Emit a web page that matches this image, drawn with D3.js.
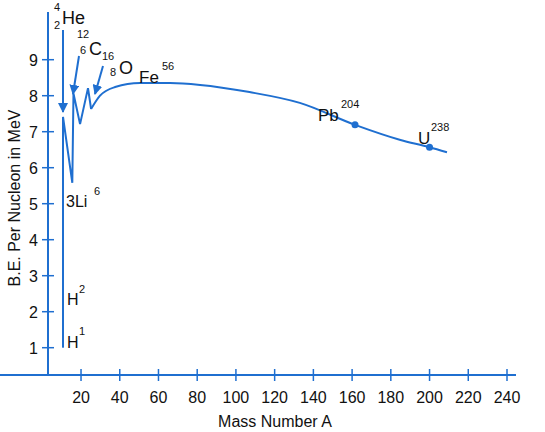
<!DOCTYPE html><html><head><meta charset="utf-8"><script src="https://cdn.jsdelivr.net/npm/d3@7"></script>
<style>body{margin:0;background:#fff}text{font-family:Arial,"Liberation Sans",sans-serif;fill:#111}</style></head><body><svg id="c" width="545" height="432"></svg>
<script>
const xTicks=[20,40,60,80,100,120,140,160,180,200,220,240];
const yTicks=[1,2,3,4,5,6,7,8,9];
const curveA=[10.7,15.5,16.1,19.5,23.6,25.2];
const curveV=[7.41,5.58,8.06,7.21,8.21,7.63];
const smoothA=[25.2,29.8,37.6,50.5,66,81.5,107,133,161.5,185,200,209];
const smoothV=[7.63,8.0,8.24,8.35,8.35,8.30,8.1,7.8,7.19,6.77,6.57,6.43];
const points=[{a:161.5,v:7.19},{a:200,v:6.57}];
const hA=10.7;
const blue="#1f6fd0";
const svg=d3.select("#c");
const x=d3.scaleLinear().domain([0,240]).range([42.3,507]);
const y=d3.scaleLinear().domain([1,9]).range([347.7,59.7]);
const defs=svg.append("defs");
defs.append("marker").attr("id","ah").attr("viewBox","0 0 10 10").attr("refX",9).attr("refY",5)
 .attr("markerWidth",5).attr("markerHeight",5).attr("orient","auto").attr("markerUnits","strokeWidth")
 .append("path").attr("d","M0,0L10,5L0,10z").attr("fill",blue);
const xAxisY=375, yAxisX=48;
svg.append("line").attr("x1",0).attr("x2",516).attr("y1",xAxisY).attr("y2",xAxisY).attr("stroke",blue).attr("stroke-width",2);
svg.append("line").attr("x1",yAxisX).attr("x2",yAxisX).attr("y1",12).attr("y2",xAxisY).attr("stroke",blue).attr("stroke-width",2);
xTicks.forEach(t=>{
 svg.append("line").attr("x1",x(t)).attr("x2",x(t)).attr("y1",xAxisY-6).attr("y2",xAxisY+6).attr("stroke",blue).attr("stroke-width",1.5);
 svg.append("text").attr("x",x(t)).attr("y",xAxisY+28).attr("text-anchor","middle").attr("font-size",16).text(t);
});
yTicks.forEach(t=>{
 svg.append("line").attr("x1",yAxisX-6).attr("x2",yAxisX+6).attr("y1",y(t)).attr("y2",y(t)).attr("stroke",blue).attr("stroke-width",1.5);
 svg.append("text").attr("x",yAxisX-10).attr("y",y(t)+6).attr("text-anchor","end").attr("font-size",16).text(t);
});
svg.append("text").attr("x",275).attr("y",427).attr("text-anchor","middle").attr("font-size",16).text("Mass Number A");
svg.append("text").attr("transform","translate(20,198) rotate(-90)").attr("text-anchor","middle").attr("font-size",16).text("B.E. Per Nucleon in MeV");
svg.append("line").attr("x1",x(hA)).attr("x2",x(hA)).attr("y1",y(1)).attr("y2",y(7.41)).attr("stroke",blue).attr("stroke-width",2);
const zz=curveA.map((a,i)=>[x(a),y(curveV[i])]);
svg.append("path").attr("d",d3.line()(zz)).attr("fill","none").attr("stroke",blue).attr("stroke-width",2);
const sm=smoothA.map((a,i)=>[x(a),y(smoothV[i])]);
svg.append("path").attr("d",d3.line().curve(d3.curveMonotoneX)(sm)).attr("fill","none").attr("stroke",blue).attr("stroke-width",2);
svg.selectAll("circle").data(points).join("circle").attr("cx",d=>x(d.a)).attr("cy",d=>y(d.v)).attr("r",3.5).attr("fill",blue);
[[63,30,63,112],[79,56,73,94],[103,66,95,94]].forEach(a=>{
 svg.append("line").attr("x1",a[0]).attr("y1",a[1]).attr("x2",a[2]).attr("y2",a[3]).attr("stroke",blue).attr("stroke-width",2).attr("marker-end","url(#ah)");
});
function t(xp,yp,s,fs){svg.append("text").attr("x",xp).attr("y",yp).attr("font-size",fs).text(s);}
// He
t(54,11,"4",11);t(54,29,"2",11);t(62,24,"He",18);
// C
t(77,38,"12",11);t(80,54,"6",11);t(89,55,"C",18);
// O
t(102,60,"16",11);t(110,76,"8",11);t(119,74,"O",18);
// Fe
t(139,83,"Fe",17);t(162,70,"56",11);
t(66,207,"3Li",16);t(94,195,"6",11);
t(67,305,"H",16);t(79,293,"2",11);
t(67,348,"H",16);t(79,335,"1",11);
t(318,121,"Pb",17);t(341,108,"204",11);
t(418,144,"U",17);t(431,131,"238",11);
</script></body></html>
